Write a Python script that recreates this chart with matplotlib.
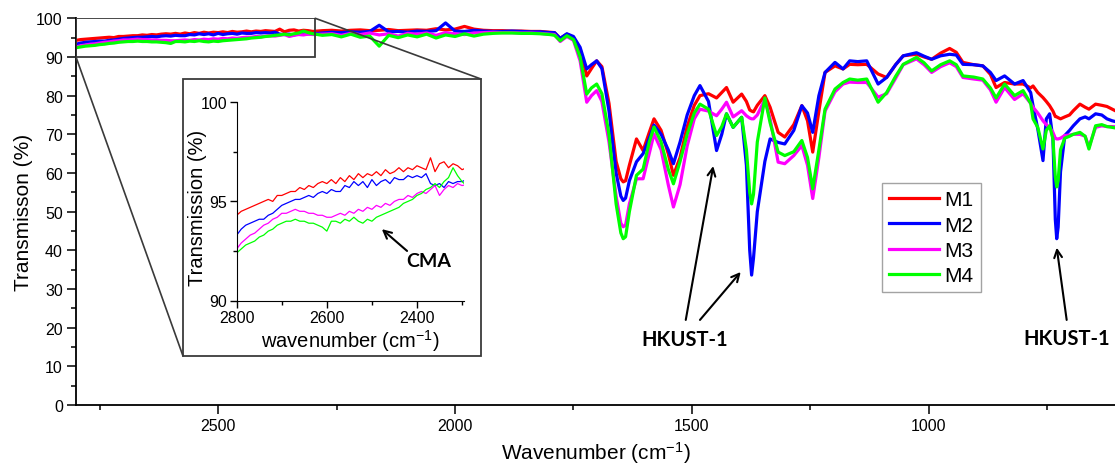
import matplotlib
matplotlib.use("Agg")
import matplotlib.pyplot as plt
from matplotlib.patches import Rectangle, ConnectionPatch
from matplotlib.ticker import MultipleLocator

plt.rcParams['font.family'] = ['Liberation Sans', 'DejaVu Sans']
plt.rcParams['mathtext.default'] = 'regular'

W, H = 1115, 464

# ---- data ----
# noisy baseline 2800-2300 cm-1 (also shown in the inset), every 10 cm-1
wn_noise = list(range(2800, 2290, -10))
m1_noise = [94.3, 94.5, 94.6, 94.7, 94.8, 94.9, 95.0, 95.1, 95.0, 95.3,
            95.3, 95.4, 95.5, 95.5, 95.7, 95.6, 95.8, 95.7, 95.9, 96.0,
            95.9, 96.1, 95.9, 96.2, 96.0, 96.3, 96.1, 96.4, 96.2, 96.4,
            96.3, 96.5, 96.3, 96.6, 96.4, 96.5, 96.7, 96.5, 96.7, 96.6,
            96.8, 96.7, 96.6, 97.2, 96.5, 96.9, 97.0, 96.7, 96.9, 96.8, 96.6]
m2_noise = [93.3, 93.6, 93.8, 93.9, 94.0, 94.1, 94.1, 94.3, 94.4, 94.6,
            94.8, 94.9, 95.0, 95.1, 95.1, 95.2, 95.3, 95.2, 95.4, 95.5,
            95.4, 95.6, 95.5, 95.5, 95.8, 95.7, 96.0, 95.8, 96.0, 95.7,
            96.1, 95.8, 96.0, 96.1, 95.9, 96.2, 96.1, 96.1, 96.3, 96.2,
            96.3, 96.2, 96.4, 95.9, 95.8, 95.9, 95.7, 96.0, 95.9, 96.0, 96.0]
m3_noise = [92.6, 92.9, 93.1, 93.3, 93.4, 93.6, 93.8, 93.9, 94.1, 94.2,
            94.4, 94.4, 94.5, 94.6, 94.5, 94.5, 94.4, 94.4, 94.3, 94.3,
            94.2, 94.2, 94.3, 94.4, 94.3, 94.5, 94.4, 94.6, 94.5, 94.7,
            94.6, 94.8, 94.7, 94.9, 94.8, 95.0, 95.1, 95.1, 95.3, 95.2,
            95.4, 95.5, 95.4, 95.6, 95.8, 95.3, 95.6, 95.8, 95.7, 95.9, 95.8]
m4_noise = [92.4, 92.6, 92.8, 92.9, 93.0, 93.2, 93.3, 93.5, 93.6, 93.8,
            93.9, 94.0, 94.0, 94.1, 94.0, 94.0, 93.9, 93.9, 93.8, 93.7,
            93.5, 94.0, 94.0, 93.9, 94.1, 94.0, 94.2, 94.0, 93.9, 94.1,
            94.0, 94.2, 94.3, 94.4, 94.5, 94.6, 94.7, 94.9, 95.0, 95.1,
            95.3, 95.4, 95.6, 95.7, 95.9, 95.7, 96.0, 96.2, 96.7, 96.3, 96.0]

# flat part 2280-1800, every 20 cm-1
wn_flat = list(range(2280, 1790, -20))
m1_flat = [96.8, 96.9, 96.7, 96.9, 97.0, 96.8, 96.9, 97.1, 96.8, 96.9, 97.0, 96.9, 97.3,
           97.0, 97.2, 97.9, 97.2, 96.9, 96.8, 96.8, 96.7, 96.7, 96.6, 96.6, 96.4]
m2_flat = [96.2, 96.4, 96.3, 96.5, 96.4, 96.6, 98.2, 96.5, 96.6, 96.4, 96.7, 96.6, 96.8,
           98.8, 96.7, 96.6, 96.9, 96.7, 96.6, 96.6, 96.7, 96.6, 96.5, 96.5, 96.3]
m3_flat = [95.9, 96.0, 95.6, 96.1, 95.8, 96.2, 95.7, 96.0, 95.4, 96.1, 95.9, 96.2, 95.6,
           96.3, 96.0, 95.8, 96.2, 96.3, 96.4, 96.3, 96.3, 96.2, 96.2, 96.1, 95.9]
m4_flat = [95.6, 95.8, 95.2, 95.9, 95.1, 95.4, 92.8, 95.6, 95.0, 95.7, 95.2, 95.9, 94.9,
           95.7, 95.3, 96.0, 95.4, 95.9, 96.1, 96.2, 96.2, 96.1, 96.1, 96.0, 95.8]

# band region
wn_bands = [1790, 1778, 1764, 1750, 1736, 1722, 1712, 1701, 1690, 1675,
            1660, 1650, 1645, 1640, 1632, 1617, 1603, 1590, 1580, 1565, 1550, 1539,
            1525, 1510, 1495, 1483, 1465, 1448, 1437, 1427, 1413, 1395,
            1385, 1378, 1374, 1370, 1362, 1346, 1335, 1318, 1304, 1285, 1268, 1256,
            1245, 1232, 1219, 1198, 1181, 1167, 1150, 1131, 1107, 1089,
            1070, 1054, 1026, 1010, 994, 975, 956, 942, 928, 905,
            886, 870, 858, 840, 819, 801]
m1_bands = [96.3, 94.8, 95.9, 95.0, 92.0, 85.1, 87.0, 89.0, 87.5, 78.0,
            63.0, 58.5, 57.7, 58.0, 62.0, 68.8, 65.8, 70.5, 74.0, 71.0, 65.0, 59.4,
            64.0, 72.0, 77.5, 80.0, 80.5, 79.4, 80.8, 82.1, 78.3, 80.4,
            78.5, 76.3, 76.0, 75.8, 77.5, 80.0, 77.0, 70.5, 69.3, 72.5, 77.4, 73.5,
            65.4, 76.0, 86.0, 87.7, 86.9, 88.1, 88.0, 88.1, 85.6, 84.7,
            88.0, 90.3, 90.7, 90.0, 89.4, 91.0, 92.2, 91.2, 88.6, 88.0,
            87.7, 85.5, 82.1, 83.4, 83.0, 83.0]
m2_bands = [96.3, 94.8, 96.0, 95.3, 92.5, 86.9, 88.0, 89.0, 87.0, 76.0,
            60.0, 54.0, 52.9, 53.5, 58.0, 62.9, 65.0, 69.0, 72.4, 70.0, 66.0, 62.4,
            68.0, 75.0, 80.0, 82.6, 78.5, 65.8, 70.0, 75.3, 71.8, 74.4,
            62.0, 40.0, 33.6, 38.0, 50.0, 63.0, 68.8, 67.9, 67.5, 71.0, 77.4, 75.5,
            70.5, 80.0, 86.0, 88.6, 86.9, 89.0, 88.8, 89.0, 83.0, 84.7,
            88.0, 90.3, 91.1, 90.2, 89.4, 90.3, 90.7, 90.5, 88.1, 88.0,
            87.7, 86.0, 83.9, 85.1, 83.0, 83.9]
m3_bands = [95.8, 94.0, 95.3, 94.3, 89.0, 78.3, 80.0, 81.3, 78.5, 68.0,
            54.0, 47.0, 46.1, 46.5, 52.0, 58.5, 58.5, 65.0, 70.1, 66.0, 57.0, 51.2,
            57.0, 67.0, 74.0, 76.5, 76.0, 74.8, 76.5, 78.3, 74.5, 76.1,
            74.8, 74.2, 74.0, 74.0, 75.0, 79.0, 74.0, 62.8, 62.4, 64.5, 67.1, 62.0,
            53.4, 64.0, 76.0, 81.0, 83.0, 83.5, 83.4, 83.4, 79.6, 80.5,
            84.5, 88.0, 89.5, 88.0, 86.0, 87.5, 88.5, 87.5, 84.7, 84.3,
            84.0, 81.5, 78.3, 82.1, 79.0, 80.5]
m4_bands = [95.6, 94.2, 95.5, 94.5, 90.0, 80.4, 82.0, 83.0, 80.5, 70.0,
            52.0, 44.5, 43.0, 43.5, 50.0, 59.4, 61.0, 68.0, 71.9, 68.0, 61.0, 57.2,
            63.0, 70.0, 75.5, 77.8, 76.5, 69.7, 72.0, 75.3, 71.8, 74.4,
            66.0, 55.0, 52.0, 54.5, 68.0, 79.4, 73.0, 65.4, 64.5, 65.5, 68.4, 64.0,
            55.9, 66.0, 76.5, 81.7, 83.4, 84.3, 84.0, 84.3, 78.3, 80.8,
            85.0, 88.1, 89.9, 88.5, 86.4, 88.0, 89.0, 88.0, 85.1, 84.8,
            84.3, 82.0, 79.4, 83.0, 80.0, 81.3]

# low-wavenumber end
wn_tail = [785, 780, 770, 759, 752, 745, 738, 733, 730, 727, 722, 713,
           703, 695, 681, 670, 662, 648, 635, 624, 613, 600]
m1_tail = [82.0, 82.5, 80.8, 79.5, 78.5, 77.4, 76.0, 74.6, 74.5, 74.3, 74.0, 74.5,
           75.0, 76.1, 77.8, 77.0, 76.5, 77.8, 77.5, 77.2, 76.5, 75.7]
m2_tail = [80.8, 77.4, 71.4, 63.2, 74.0, 75.3, 68.8, 48.0, 43.0, 46.0, 60.3, 69.7,
           71.0, 72.2, 74.0, 74.5, 74.0, 75.3, 75.0, 74.0, 73.5, 73.1]
m3_tail = [78.0, 77.0, 75.5, 73.5, 72.5, 71.8, 70.5, 69.0, 68.8, 68.8, 69.0, 69.7,
           69.8, 70.0, 70.0, 69.5, 66.7, 71.8, 72.2, 72.0, 72.0, 71.9]
m4_tail = [78.0, 74.0, 71.8, 66.2, 71.0, 72.2, 68.8, 59.0, 56.4, 58.0, 66.0, 69.0,
           69.5, 70.0, 70.5, 69.5, 66.2, 72.2, 72.5, 72.0, 71.8, 71.5]

labels = ['M1', 'M2', 'M3', 'M4']
colors = ['#ff0000', '#0000ff', '#ff00ff', '#00ff00']

wn = wn_noise + wn_flat + wn_bands + wn_tail
spectra = [m1_noise + m1_flat + m1_bands + m1_tail,
           m2_noise + m2_flat + m2_bands + m2_tail,
           m3_noise + m3_flat + m3_bands + m3_tail,
           m4_noise + m4_flat + m4_bands + m4_tail]


def fig_frac(x, y):
    # pixel position (from top left) -> figure fraction
    return (x / W, 1 - y / H)


fig = plt.figure(figsize=(W / 100, H / 100), dpi=100)

# ---- main axes ----
ax = fig.add_axes([76 / W, 58 / H, 1039 / W, 386.7 / H])
for s, lab, c in zip(spectra, labels, colors):
    ax.plot(wn, s, color=c, lw=2.3, label=lab, solid_joinstyle='round')

ax.set_xlim(2800, 607)
ax.set_ylim(0, 100)
ax.xaxis.set_major_locator(MultipleLocator(500))
ax.xaxis.set_minor_locator(MultipleLocator(250))
ax.yaxis.set_major_locator(MultipleLocator(10))
ax.yaxis.set_minor_locator(MultipleLocator(5))
ax.tick_params(which='major', direction='out', length=6.5, width=1.1, labelsize=11.5, pad=3)
ax.tick_params(which='minor', direction='out', length=3.5, width=1.1)
for sp in ['top', 'right']:
    ax.spines[sp].set_visible(False)
for sp in ['left', 'bottom']:
    ax.spines[sp].set_linewidth(1.3)
ax.set_xlabel('Wavenumber (cm$^{-1}$)', fontsize=15, labelpad=4)
ax.set_ylabel('Transmisson (%)', fontsize=15, labelpad=2)

leg = ax.legend(loc='upper left', bbox_to_anchor=fig_frac(882, 184), bbox_transform=fig.transFigure,
                borderaxespad=0, fancybox=False, edgecolor='#8c8c8c', fontsize=15,
                handlelength=2.4, handletextpad=0.25, labelspacing=0.3, borderpad=0.35)
leg.get_frame().set_linewidth(1.0)

# zoom rectangle on the main plot
ax.add_patch(Rectangle((2800, 90), 2295 - 2800, 10, fill=False, ec='#3a3a3a', lw=1.3, zorder=5))

# annotations
arrow = dict(arrowstyle='->', color='black', lw=1.5, mutation_scale=14, shrinkA=0, shrinkB=0)
ax.text(1515, 17.1, 'HKUST-1', fontsize=14.5, fontweight='bold', family='Lato', ha='center', va='center')
ax.annotate('', xy=(1455, 61.8), xytext=(1513, 22.0), arrowprops=arrow)
ax.annotate('', xy=(1397, 34.4), xytext=(1483, 22.0), arrowprops=arrow)
ax.text(710, 17.3, 'HKUST-1', fontsize=14.5, fontweight='bold', family='Lato', ha='center', va='center')
ax.annotate('', xy=(730, 40.7), xytext=(709, 22.0), arrowprops=arrow)

# ---- inset frame and connecting lines ----
x0, y0 = fig_frac(183, 357)
x1, y1 = fig_frac(481, 80)
fig.add_artist(Rectangle((x0, y0), x1 - x0, y1 - y0, transform=fig.transFigure,
                         fill=False, ec='#3a3a3a', lw=1.3))
fig.add_artist(ConnectionPatch(xyA=(2295, 100), coordsA=ax.transData, xyB=(x1, y1),
                               coordsB=fig.transFigure, color='#3a3a3a', lw=1.2))
fig.add_artist(ConnectionPatch(xyA=(2800, 90), coordsA=ax.transData, xyB=(x0, y0),
                               coordsB=fig.transFigure, color='#3a3a3a', lw=1.2))

# ---- inset axes ----
axi = fig.add_axes([236.7 / W, (H - 301.5) / H, 227.6 / W, 198.2 / H])
for s, c in zip(spectra, colors):
    axi.plot(wn, s, color=c, lw=0.9)
axi.set_xlim(2800, 2295)
axi.set_ylim(90, 100)
axi.xaxis.set_major_locator(MultipleLocator(200))
axi.xaxis.set_minor_locator(MultipleLocator(100))
axi.yaxis.set_major_locator(MultipleLocator(5))
axi.yaxis.set_minor_locator(MultipleLocator(2.5))
axi.tick_params(which='major', direction='out', length=5, width=1.0, labelsize=11.5, pad=2)
axi.tick_params(which='minor', direction='out', length=3, width=1.0)
for sp in ['top', 'right']:
    axi.spines[sp].set_visible(False)
axi.set_xlabel('wavenumber (cm$^{-1}$)', fontsize=14.5, labelpad=1)
axi.set_ylabel('Transmission (%)', fontsize=14.5)
axi.yaxis.set_label_coords(-0.13, 0.47)
axi.text(2374, 92.0, 'CMA', fontsize=14, fontweight='bold', family='Lato', ha='center', va='center')
axi.annotate('', xy=(2478, 93.6), xytext=(2422, 92.5), arrowprops=arrow)

fig.savefig('out.png', dpi=100)
